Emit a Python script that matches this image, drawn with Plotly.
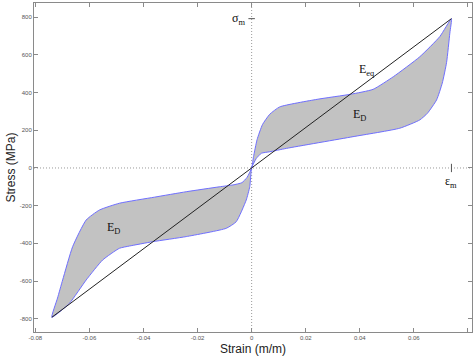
import plotly.graph_objects as go

# Peak strain / stress of the cycle
eps_m = 0.0739
sig_m = 792

# Loading branch: from (-eps_m, -sig_m) up to (eps_m, sig_m)
up_strain = [-0.0739, -0.0718, -0.0699, -0.0662, -0.0612, -0.0563, -0.0489,
             -0.0360, -0.0242, -0.0120, -0.0069, -0.0036, -0.0017, 0.0,
             0.0007, 0.0020, 0.0040, 0.0067, 0.0104, 0.0242, 0.0366, 0.0449,
             0.0524, 0.0622, 0.0696, 0.0739]
up_stress = [-792, -690, -594, -417, -276, -223, -187,
             -155, -126, -100, -90, -78, -50, 0,
             60, 150, 230, 285, 324, 364, 391, 417,
             484, 590, 697, 792]

# Unloading branch: from (eps_m, sig_m) back down to (-eps_m, -sig_m)
dn_strain = [0.0739, 0.0733, 0.0721, 0.0705, 0.0684, 0.0650, 0.0622, 0.0548,
             0.0375, 0.0129, 0.0067, 0.0036, 0.0017, 0.0,
             -0.0007, -0.0020, -0.0057, -0.0094, -0.0242, -0.0366, -0.0452,
             -0.0489, -0.0551, -0.0612, -0.0674, -0.0739]
dn_stress = [792, 715, 560, 450, 361, 290, 255, 211,
             166, 104, 86, 78, 50, 0,
             -99, -170, -285, -320, -364, -391, -414,
             -426, -488, -594, -718, -792]

# Equivalent linear stiffness line
eq_strain = [-eps_m, eps_m]
eq_stress = [-sig_m, sig_m]

x_ticks = [-0.08, -0.06, -0.04, -0.02, 0, 0.02, 0.04, 0.06, 0.08]
x_labels = ["-0.08", "-0.06", "-0.04", "-0.02", "0", "0.02", "0.04", "0.06", "0.08"]
y_ticks = [-800, -600, -400, -200, 0, 200, 400, 600, 800]
y_labels = ["-800", "-600", "-400", "-200", "0", "200", "400", "600", "800"]

loop_x = up_strain + dn_strain[1:]
loop_y = up_stress + dn_stress[1:]

fig = go.Figure()
fig.add_trace(go.Scatter(
    x=loop_x, y=loop_y, mode="lines", fill="toself",
    fillcolor="#c2c2c2",
    line=dict(color="#6f6fff", width=1, shape="spline", smoothing=0.5),
    hoverinfo="skip", showlegend=False))
fig.add_trace(go.Scatter(
    x=eq_strain, y=eq_stress, mode="lines",
    line=dict(color="#222222", width=1), showlegend=False))

dot = dict(color="#9a9a9a", width=1, dash="1px,2px")
shapes = [
    dict(type="line", xref="x", yref="paper", x0=0, x1=0, y0=0, y1=1, line=dot, layer="below"),
    dict(type="line", xref="paper", yref="y", x0=0, x1=1, y0=0, y1=0, line=dot, layer="below"),
    dict(type="line", xref="x", yref="y", x0=-0.0012, x1=0.0012, y0=sig_m, y1=sig_m,
         line=dict(color="#555555", width=1)),
    dict(type="line", xref="x", yref="y", x0=eps_m, x1=eps_m, y0=-22, y1=22,
         line=dict(color="#555555", width=1)),
]

serif = "Liberation Serif"
annotations = [
    dict(x=-0.0018, y=sig_m, text="σ<sub>m</sub>", showarrow=False, xanchor="right",
         yanchor="middle", font=dict(family=serif, size=12, color="#111")),
    dict(x=eps_m, y=-72, text="ε<sub>m</sub>", showarrow=False, xanchor="center",
         yanchor="middle", font=dict(family=serif, size=12, color="#111")),
    dict(x=0.0425, y=520, text="E<sub>eq</sub>", showarrow=False,
         font=dict(family=serif, size=12, color="#111")),
    dict(x=0.0398, y=282, text="E<sub>D</sub>", showarrow=False,
         font=dict(family=serif, size=12, color="#111")),
    dict(x=-0.0512, y=-318, text="E<sub>D</sub>", showarrow=False,
         font=dict(family=serif, size=12, color="#111")),
    dict(xref="paper", yref="paper", x=0.5, y=0, yanchor="middle", yshift=-17,
         text="Strain (m/m)", showarrow=False,
         font=dict(family="Liberation Sans", size=12, color="#222")),
    dict(xref="paper", yref="paper", x=0, y=0.5, xanchor="center", xshift=-24,
         text="Stress (MPa)", textangle=-90, showarrow=False,
         font=dict(family="Liberation Sans", size=12, color="#222")),
]

axis_common = dict(
    showgrid=False, zeroline=False, showline=True, linecolor="#8a8a8a", linewidth=1,
    mirror="ticks", ticks="inside", ticklen=4, tickcolor="#8a8a8a",
    tickfont=dict(family="Liberation Sans", size=6, color="#555"))

fig.update_layout(
    width=474, height=356,
    margin=dict(l=34, r=2, t=3, b=24),
    paper_bgcolor="white", plot_bgcolor="white",
    shapes=shapes, annotations=annotations,
    xaxis=dict(range=[-0.0805, 0.0815], tickvals=x_ticks, ticktext=x_labels, **axis_common),
    yaxis=dict(range=[-870, 875], tickvals=y_ticks, ticktext=y_labels, **axis_common),
)

fig.write_html("out.html")
